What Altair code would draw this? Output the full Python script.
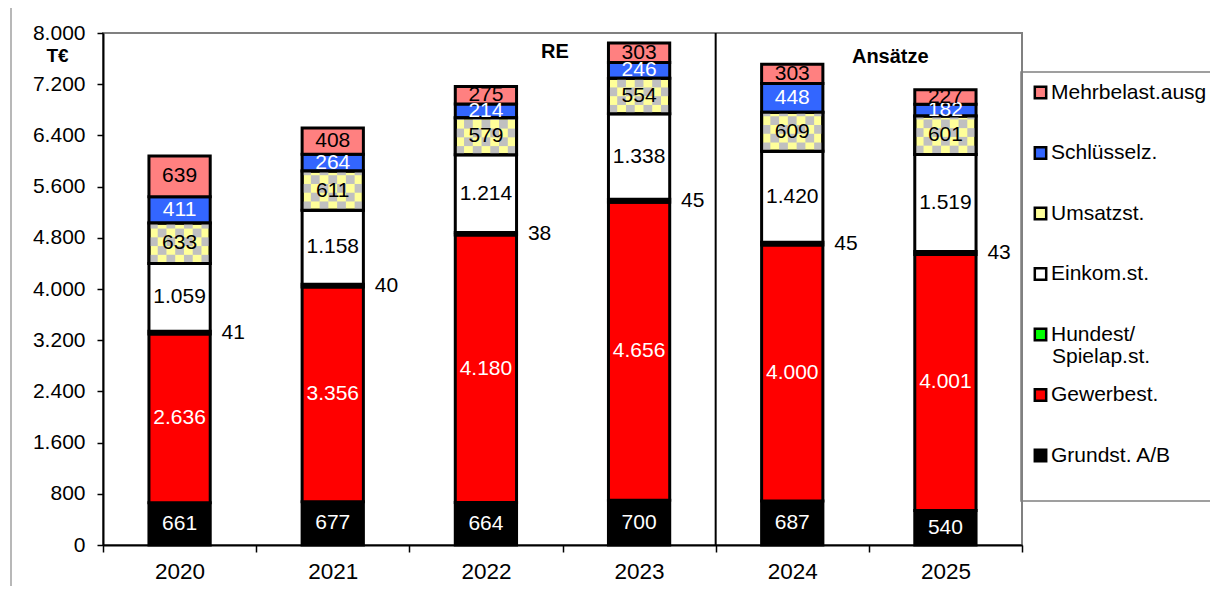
import json
import altair as alt
import pandas as pd

# ---------------- data ----------------
years = ["2020", "2021", "2022", "2023", "2024", "2025"]
phase = ["RE", "RE", "RE", "RE", "Ansätze", "Ansätze"]
series = ["Grundst. A/B", "Gewerbest.", "Hundest/ Spielap.st.", "Einkom.st.",
          "Umsatzst.", "Schlüsselz.", "Mehrbelast.ausg"]
grundst = [661, 677, 664, 700, 687, 540]
gewerbest = [2636, 3356, 4180, 4656, 4000, 4001]
hundest = [41, 40, 38, 45, 45, 43]
einkom = [1059, 1158, 1214, 1338, 1420, 1519]
umsatz = [633, 611, 579, 554, 609, 601]
schluessel = [411, 264, 214, 246, 448, 182]
mehrbelast = [639, 408, 275, 303, 303, 227]
y_ticks = [0, 800, 1600, 2400, 3200, 4000, 4800, 5600, 6400, 7200, 8000]

values = [grundst, gewerbest, hundest, einkom, umsatz, schluessel, mehrbelast]

# ---------------- styles ----------------
FONT = "Liberation Sans"
fill_colors = ["#000000", "#FF0000", "#00FF00", "#FFFFFF", "#FFFF99", "#3366FF", "#FF8080"]
text_colors = ["white", "white", "black", "black", "black", "white", "black"]
CHECK_GRAY = "#C0C0C0"
W, H = 919, 512
BAR_W = 0.4
YMAX = 8000
N_CHECK_COLS = 7
VAL_FS = 21
LEG_FS = 21
LEG_X, LEG_Y, LEG_ROWPAD = 927, 49, 37.5
LEG_LABEL_DX = 22


def de(v):
    return f"{v:,}".replace(",", ".")


rows = []
for i, yr in enumerate(years):
    cum = 0
    for s, name in enumerate(series):
        v = values[s][i]
        rows.append(dict(idx=i, year=yr, series=name, value=v, y0=cum, y1=cum + v,
                         ymid=cum + v / 2, xl=i - BAR_W / 2, xr=i + BAR_W / 2,
                         label=de(v), tcolor=text_colors[s]))
        cum += v
df = pd.DataFrame(rows)

# checker texture cells for the Umsatzst. segments
step_px = W / len(years)
colw = BAR_W / N_CHECK_COLS
rowh = colw * step_px / (H / YMAX)
cells = []
for _, r in df[df.series == "Umsatzst."].iterrows():
    nrow = 0
    y = r.y0
    while y < r.y1 - 1e-9:
        ytop = min(y + rowh, r.y1)
        for c in range(N_CHECK_COLS):
            if (nrow + c) % 2 == 0:
                cells.append(dict(cx0=r.xl + c * colw, cx1=r.xl + (c + 1) * colw,
                                  cy0=y, cy1=ytop))
        y += rowh
        nrow += 1
cells_df = pd.DataFrame(cells)

legend_order = list(reversed(series))
legend_colors = list(reversed(fill_colors))

xscale = alt.Scale(domain=[-0.5, len(years) - 0.5], nice=False, zero=False)
yscale = alt.Scale(domain=[0, YMAX], nice=False)

half_steps = [k / 2 - 0.5 for k in range(2 * len(years) + 1)]
x_axis = alt.Axis(
    values=half_steps,
    labelExpr=f"datum.value % 1 === 0 ? {json.dumps(years)}[datum.value] : ''",
    tickOpacity={"condition": {"test": "datum.value % 1 === 0", "value": 0}, "value": 1},
    tickSize=7, tickColor="black", tickWidth=1.5,
    domainColor="black", domainWidth=2,
    labelFontSize=22.5, labelFont=FONT, labelColor="black", labelPadding=8,
    labelOverlap=False, grid=False, title=None,
)
y_axis = alt.Axis(
    values=y_ticks,
    labelExpr="replace(format(datum.value, ','), ',', '.')",
    tickSize=6, tickColor="black", tickWidth=1.5,
    domainColor="black", domainWidth=2,
    labelFontSize=21, labelFont=FONT, labelColor="black", labelPadding=12,
    grid=False, title="T€", titleAngle=0, titleX=-46, titleY=22,
    titleAlign="center", titleBaseline="middle", titleFontWeight="bold",
    titleFontSize=19, titleFont=FONT, titleColor="black",
)


def X(field):
    return alt.X(field, scale=xscale, axis=x_axis)


def Y(field):
    return alt.Y(field, scale=yscale, axis=y_axis)


bars = alt.Chart(df).mark_rect(stroke="black", strokeWidth=3).encode(
    x=X("xl:Q"),
    x2="xr:Q",
    y=Y("y0:Q"),
    y2="y1:Q",
    color=alt.Color(
        "series:N",
        scale=alt.Scale(domain=legend_order, range=legend_colors),
        legend=alt.Legend(
            orient="none", legendX=LEG_X, legendY=LEG_Y, direction="vertical",
            title=None, symbolType="square", symbolSize=130,
            symbolStrokeColor="black", symbolStrokeWidth=2.5,
            labelFontSize=LEG_FS, labelFont=FONT, labelColor="black",
            rowPadding=LEG_ROWPAD, labelOffset=0, padding=0, labelLimit=300,
            labelExpr="datum.label == 'Hundest/ Spielap.st.' ? 'Hundest/' : datum.label",
        ),
    ),
)

checks = alt.Chart(cells_df).mark_rect(fill=CHECK_GRAY, strokeWidth=0).encode(
    x=X("cx0:Q"), x2="cx1:Q", y=Y("cy0:Q"), y2="cy1:Q",
)

outlines = alt.Chart(df[df.series == "Umsatzst."]).mark_rect(
    fillOpacity=0, stroke="black", strokeWidth=3
).encode(
    x=X("xl:Q"), x2="xr:Q", y=Y("y0:Q"), y2="y1:Q",
)

inner_labels = alt.Chart(df[df.series != "Hundest/ Spielap.st."]).mark_text(
    fontSize=VAL_FS, font=FONT, align="center", baseline="middle"
).encode(
    x=X("idx:Q"),
    y=Y("ymid:Q"),
    text="label:N",
    color=alt.Color("tcolor:N", scale=None),
)

side_labels = alt.Chart(df[df.series == "Hundest/ Spielap.st."]).mark_text(
    fontSize=VAL_FS, font=FONT, align="left", baseline="middle", dx=42, color="black"
).encode(
    x=X("idx:Q"),
    y=Y("ymid:Q"),
    text="label:N",
)

divider_x = phase.index("Ansätze") - 0.5
divider = alt.Chart(pd.DataFrame({"x": [divider_x], "y0": [0], "y1": [YMAX]})).mark_rule(
    color="black", strokeWidth=2
).encode(
    x=X("x:Q"), y=Y("y0:Q"), y2="y1:Q",
)

annot = pd.DataFrame({"text": ["RE", "Ansätze"], "ax": [2.45, 4.64], "ay": [7700, 7625]})
annotations = alt.Chart(annot).mark_text(
    fontSize=20, font=FONT, fontWeight="bold", align="center", baseline="middle", color="black"
).encode(
    x=X("ax:Q"), y=Y("ay:Q"), text="text:N",
)

deco = pd.DataFrame({"a": [0]})
legend_box = alt.Chart(deco).mark_rect(
    fillOpacity=0, stroke="#808080", strokeWidth=1.5
).encode(
    x=alt.value(W - 1), x2=alt.value(W + 200), y=alt.value(39), y2=alt.value(468)
)
left_frame = alt.Chart(deco).mark_rule(color="#A0A0A0", strokeWidth=1.5).encode(
    x=alt.value(-92), y=alt.value(-30), y2=alt.value(H + 60)
)
# second line of the two-line legend entry "Hundest/ Spielap.st."
hund_row = legend_order.index("Hundest/ Spielap.st.")
legend_line2 = alt.Chart(deco).mark_text(
    text="Spielap.st.", fontSize=LEG_FS, font=FONT, align="left", baseline="middle",
    color="black"
).encode(
    x=alt.value(LEG_X + LEG_LABEL_DX),
    y=alt.value(LEG_Y + 10 + hund_row * (LEG_FS * 1.07 + LEG_ROWPAD) + 25),
)

chart = alt.layer(
    bars, checks, outlines, inner_labels, side_labels, divider, annotations,
    legend_box, left_frame, legend_line2
).properties(
    width=W, height=H,
    autosize=alt.AutoSizeParams(type="none"),
    padding={"left": 95, "top": 25, "right": 188, "bottom": 41},
).configure_view(
    stroke="#808080", strokeWidth=2
)

chart.save("out.html", embed_options={"renderer": "svg", "actions": False})
